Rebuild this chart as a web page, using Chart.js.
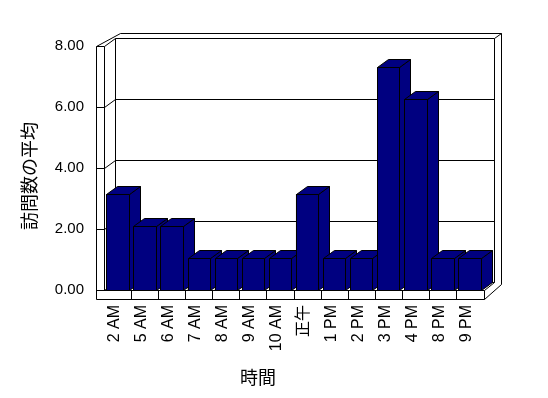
<!DOCTYPE html>
<html>
<head>
<meta charset="utf-8">
<script src="https://cdn.jsdelivr.net/npm/chart.js@4.4.1/dist/chart.umd.min.js"></script>
<style>
  html, body { margin: 0; padding: 0; background: #fff; }
  canvas { display: block; }
</style>
</head>
<body>
<canvas id="visitsChart" width="548" height="398"></canvas>
<script>
// hours (categories) and average visit counts
const hourLabels = ['2 AM', '5 AM', '6 AM', '7 AM', '8 AM', '9 AM', '10 AM', '正午', '1 PM', '2 PM', '3 PM', '4 PM', '8 PM', '9 PM'];
const avgVisits = [3.15, 2.1, 2.1, 1.05, 1.05, 1.05, 1.05, 3.15, 1.05, 1.05, 7.3, 6.25, 1.05, 1.05];
const yTicks = [0, 2, 4, 6, 8];

const yTitle = '訪問数の平均';
const xTitle = '時間';

const NAVY = '#000080';
const DEPTH = { dx: 11, dy: -8 };   // depth of the 3D box
const WALL = 8;                      // left wall thickness
const FLOOR = 9;                     // floor thickness
const BACK = { dx: 7, dy: -5 };      // back wall thickness

// snap to pixel centre so 1px lines stay crisp
const p = v => Math.round(v) + 0.5;

function line(ctx, pts) {
    ctx.beginPath();
    ctx.moveTo(p(pts[0][0]), p(pts[0][1]));
    for (let i = 1; i < pts.length; i++) ctx.lineTo(p(pts[i][0]), p(pts[i][1]));
    ctx.stroke();
}

function poly(ctx, pts, fill) {
    ctx.beginPath();
    ctx.moveTo(p(pts[0][0]), p(pts[0][1]));
    for (let i = 1; i < pts.length; i++) ctx.lineTo(p(pts[i][0]), p(pts[i][1]));
    ctx.closePath();
    ctx.fillStyle = fill;
    ctx.fill();
    ctx.stroke();
}

const box3d = {
    id: 'box3d',
    beforeDraw(chart) {
        const ctx = chart.ctx;
        ctx.save();
        ctx.fillStyle = '#fff';
        ctx.fillRect(0, 0, chart.width, chart.height);
        ctx.restore();
    },
    beforeDatasetsDraw(chart) {
        const ctx = chart.ctx;
        const ys = chart.scales.y, xs = chart.scales.x;
        const L = chart.chartArea.left, R = chart.chartArea.right;
        const T = ys.getPixelForValue(8), B = ys.getPixelForValue(0);
        const { dx, dy } = DEPTH;
        ctx.save();
        ctx.strokeStyle = '#000';
        ctx.lineWidth = 1;

        // left wall front edge
        line(ctx, [[L - WALL, T], [L - WALL, B + FLOOR]]);
        line(ctx, [[L, T], [L, B]]);
        // top edges of left + back wall
        line(ctx, [[L - WALL, T], [L + dx + BACK.dx - 2, T + dy + BACK.dy], [R + dx + BACK.dx, T + dy + BACK.dy]]);
        line(ctx, [[R + dx, T + dy], [R + dx + BACK.dx, T + dy + BACK.dy]]);
        // back wall inner edges
        line(ctx, [[L + dx, T + dy], [L + dx, B + dy]]);
        line(ctx, [[R + dx, T + dy], [R + dx, B + dy]]);
        line(ctx, [[R + dx + BACK.dx, T + dy + BACK.dy], [R + dx + BACK.dx, B + dy + 2]]);

        // gridlines: across wall edge, along left wall, across back wall
        yTicks.forEach(v => {
            const yy = ys.getPixelForValue(v);
            line(ctx, [[L - WALL, yy], [L, yy]]);
            line(ctx, [[L, yy], [L + dx, yy + dy], [R + dx, yy + dy]]);
        });

        // floor front face and right side
        line(ctx, [[L - WALL, B], [R + 1, B], [R + 1, B + FLOOR], [L - WALL, B + FLOOR]]);
        line(ctx, [[R + 1, B], [R + dx, B + dy]]);
        line(ctx, [[R + 1, B + FLOOR], [R + dx + BACK.dx, B + dy + 2]]);
        // category dividers on the floor front
        for (let i = 0; i < hourLabels.length - 1; i++) {
            const xx = (xs.getPixelForTick(i) + xs.getPixelForTick(i + 1)) / 2;
            line(ctx, [[xx, B], [xx, B + FLOOR]]);
        }
        ctx.restore();
    },
    afterDatasetsDraw(chart) {
        const ctx = chart.ctx;
        const { dx, dy } = DEPTH;
        const meta = chart.getDatasetMeta(0);
        ctx.save();
        ctx.strokeStyle = '#000';
        ctx.lineWidth = 1;
        meta.data.forEach(bar => {
            const { x, y, base, width } = bar.getProps(['x', 'y', 'base', 'width'], true);
            const l = x - width / 2, r = x + width / 2;
            poly(ctx, [[r, y], [r + dx, y + dy], [r + dx, base + dy], [r, base]], NAVY);
            poly(ctx, [[l, y], [l + dx, y + dy], [r + dx, y + dy], [r, y]], NAVY);
            poly(ctx, [[l, y], [r, y], [r, base], [l, base]], NAVY);
        });
        ctx.restore();

        // axis titles
        ctx.save();
        ctx.fillStyle = '#000';
        ctx.font = '18px "Noto Sans CJK JP"';
        ctx.textAlign = 'center';
        ctx.textBaseline = 'middle';
        ctx.fillText(xTitle, 258, 377);
        ctx.translate(29, 176);
        ctx.rotate(-Math.PI / 2);
        ctx.fillText(yTitle, 0, 0);
        ctx.restore();
    }
};

new Chart(document.getElementById('visitsChart'), {
    type: 'bar',
    data: {
        labels: hourLabels,
        datasets: [{
            data: avgVisits,
            backgroundColor: NAVY,
            borderColor: '#000',
            borderWidth: 1,
            categoryPercentage: 1.0,
            barPercentage: 0.83
        }]
    },
    options: {
        responsive: false,
        animation: false,
        events: [],
        layout: { padding: { left: 0, right: 65, top: 46, bottom: 0 } },
        plugins: {
            legend: { display: false },
            tooltip: { enabled: false }
        },
        scales: {
            x: {
                grid: { display: false, drawTicks: false },
                border: { display: false },
                ticks: {
                    color: '#000',
                    font: { family: '"Liberation Sans", "Noto Sans CJK JP"', size: 16 },
                    minRotation: 90,
                    maxRotation: 90,
                    autoSkip: false,
                    padding: 15,
                    labelOffset: -3
                },
                afterFit(scale) { scale.height = 108; }
            },
            y: {
                min: 0,
                max: 8,
                grid: { display: false, drawTicks: false },
                border: { display: false },
                ticks: {
                    stepSize: 2,
                    color: '#000',
                    font: { family: '"Liberation Sans"', size: 15 },
                    padding: 20,
                    callback: v => v.toFixed(2)
                },
                afterFit(scale) { scale.width = 104; }
            }
        }
    },
    plugins: [box3d]
});
</script>
</body>
</html>
